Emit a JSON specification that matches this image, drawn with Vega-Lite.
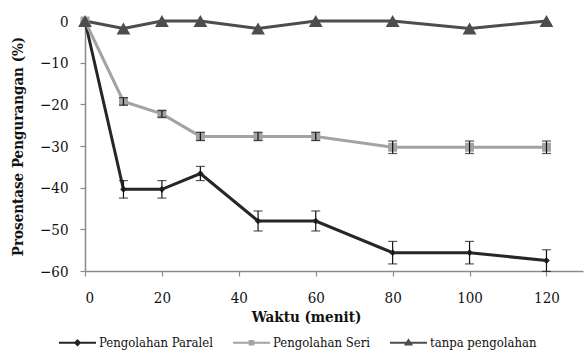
{
  "$schema": "https://vega.github.io/schema/vega-lite/v6.json",
  "autosize": "none",
  "width": 498,
  "height": 250,
  "padding": {"top": 21, "left": 85, "right": 1, "bottom": 83},
  "background": "white",
  "config": {
    "view": {"stroke": null},
    "font": "DejaVu Serif Condensed",
    "axis": {"grid": false, "domainColor": "#8a8a8a", "tickColor": "#8a8a8a", "domainWidth": 1.5, "tickWidth": 1.2, "tickSize": 5, "labelFont": "DejaVu Serif Condensed", "labelFontSize": 15, "labelColor": "#111", "titleFont": "DejaVu Serif Condensed", "titleFontSize": 15, "titleFontWeight": "bold", "titleColor": "#111"},
    "legend": {"labelFont": "DejaVu Serif Condensed", "symbolSize": 1369}
  },
  "data": {"values": [
    {"series": "Pengolahan Paralel", "t": 0, "v": 0, "lo": null, "hi": null},
    {"series": "Pengolahan Paralel", "t": 10, "v": -40.4, "lo": -42.5, "hi": -38.3},
    {"series": "Pengolahan Paralel", "t": 20, "v": -40.4, "lo": -42.5, "hi": -38.3},
    {"series": "Pengolahan Paralel", "t": 30, "v": -36.6, "lo": -38.3, "hi": -34.9},
    {"series": "Pengolahan Paralel", "t": 45, "v": -48.0, "lo": -50.4, "hi": -45.6},
    {"series": "Pengolahan Paralel", "t": 60, "v": -48.0, "lo": -50.4, "hi": -45.6},
    {"series": "Pengolahan Paralel", "t": 80, "v": -55.6, "lo": -58.3, "hi": -52.9},
    {"series": "Pengolahan Paralel", "t": 100, "v": -55.6, "lo": -58.3, "hi": -52.9},
    {"series": "Pengolahan Paralel", "t": 120, "v": -57.5, "lo": -60.1, "hi": -54.9},
    {"series": "Pengolahan Seri", "t": 0, "v": 0, "lo": null, "hi": null},
    {"series": "Pengolahan Seri", "t": 10, "v": -19.3, "lo": -20.2, "hi": -18.4},
    {"series": "Pengolahan Seri", "t": 20, "v": -22.3, "lo": -23.1, "hi": -21.5},
    {"series": "Pengolahan Seri", "t": 30, "v": -27.7, "lo": -28.7, "hi": -26.7},
    {"series": "Pengolahan Seri", "t": 45, "v": -27.7, "lo": -28.7, "hi": -26.7},
    {"series": "Pengolahan Seri", "t": 60, "v": -27.7, "lo": -28.7, "hi": -26.7},
    {"series": "Pengolahan Seri", "t": 80, "v": -30.3, "lo": -31.8, "hi": -28.8},
    {"series": "Pengolahan Seri", "t": 100, "v": -30.3, "lo": -31.8, "hi": -28.8},
    {"series": "Pengolahan Seri", "t": 120, "v": -30.3, "lo": -31.8, "hi": -28.8},
    {"series": "tanpa pengolahan", "t": 0, "v": 0, "lo": null, "hi": null},
    {"series": "tanpa pengolahan", "t": 10, "v": -1.8, "lo": null, "hi": null},
    {"series": "tanpa pengolahan", "t": 20, "v": 0, "lo": null, "hi": null},
    {"series": "tanpa pengolahan", "t": 30, "v": 0, "lo": null, "hi": null},
    {"series": "tanpa pengolahan", "t": 45, "v": -1.8, "lo": null, "hi": null},
    {"series": "tanpa pengolahan", "t": 60, "v": 0, "lo": null, "hi": null},
    {"series": "tanpa pengolahan", "t": 80, "v": 0, "lo": null, "hi": null},
    {"series": "tanpa pengolahan", "t": 100, "v": -1.8, "lo": null, "hi": null},
    {"series": "tanpa pengolahan", "t": 120, "v": 0, "lo": null, "hi": null}
  ]},
  "encoding": {
    "x": {"field": "t", "type": "quantitative", "scale": {"domain": [0, 129.5], "nice": false, "zero": false},
          "axis": {"values": [0, 20, 40, 60, 80, 100, 120], "title": "Waktu (menit)", "labelPadding": 14, "titlePadding": 4, "titleX": 221, "titleAnchor": "middle"}}
  },
  "layer": [
    {
      "mark": {"type": "line", "strokeWidth": 3},
      "encoding": {
        "y": {"field": "v", "type": "quantitative", "scale": {"domain": [-60, 0], "nice": false},
              "axis": {"values": [0, -10, -20, -30, -40, -50, -60], "title": "Prosentase Pengurangan (%)", "labelPadding": 12, "titlePadding": 14}},
        "color": {"field": "series", "type": "nominal",
          "scale": {"domain": ["Pengolahan Paralel", "Pengolahan Seri", "tanpa pengolahan"], "range": ["#262626", "#a3a3a3", "#4d4d4d"]},
          "legend": {
            "orient": "none", "legendX": -27, "legendY": 302, "direction": "horizontal", "title": null,
            "labelFont": "DejaVu Serif Condensed", "labelFontSize": 13, "labelColor": "#111",
            "symbolSize": 1369, "symbolStrokeWidth": 2, "labelOffset": 2, "columnPadding": 16,
            "encode": {"symbols": {"update": {
              "shape": {"signal": "datum.value === 'Pengolahan Paralel' ? 'M-1,0L1,0M0,-0.13L0.13,0L0,0.13L-0.13,0Z' : (datum.value === 'Pengolahan Seri' ? 'M-1,0L1,0M-0.1,-0.1L0.1,-0.1L0.1,0.1L-0.1,0.1Z' : 'M-1,0L1,0M0,-0.14L0.15,0.1L-0.15,0.1Z')"},
              "fill": {"signal": "scale('color', datum.value)"},
              "stroke": {"signal": "scale('color', datum.value)"},
              "strokeWidth": {"value": 2},
              "opacity": {"value": 1},
              "fillOpacity": {"value": 1}
            }}}
          }}
      }
    },
    {
      "transform": [{"filter": "datum.series === 'Pengolahan Paralel'"}],
      "mark": {"type": "point", "filled": true, "opacity": 1, "shape": "diamond", "size": 45, "color": "#262626"},
      "encoding": {"y": {"field": "v", "type": "quantitative"}}
    },
    {
      "transform": [{"filter": "datum.series === 'Pengolahan Seri'"}],
      "mark": {"type": "point", "filled": true, "opacity": 1, "shape": "square", "size": 80, "color": "#a3a3a3"},
      "encoding": {"y": {"field": "v", "type": "quantitative"}}
    },
    {
      "transform": [{"filter": "datum.series === 'tanpa pengolahan'"}],
      "mark": {"type": "point", "filled": true, "opacity": 1, "shape": "triangle-up", "size": 190, "color": "#4d4d4d"},
      "encoding": {"y": {"field": "v", "type": "quantitative"}}
    },
    {
      "transform": [{"filter": "datum.lo != null"}],
      "mark": {"type": "rule", "color": "#111", "strokeWidth": 1.2},
      "encoding": {"y": {"field": "lo", "type": "quantitative"}, "y2": {"field": "hi"}}
    },
    {
      "transform": [{"filter": "datum.lo != null"}],
      "mark": {"type": "tick", "orient": "horizontal", "color": "#111", "thickness": 1.2, "size": 9},
      "encoding": {"y": {"field": "lo", "type": "quantitative"}}
    },
    {
      "transform": [{"filter": "datum.lo != null"}],
      "mark": {"type": "tick", "orient": "horizontal", "color": "#111", "thickness": 1.2, "size": 9},
      "encoding": {"y": {"field": "hi", "type": "quantitative"}}
    }
  ]
}
